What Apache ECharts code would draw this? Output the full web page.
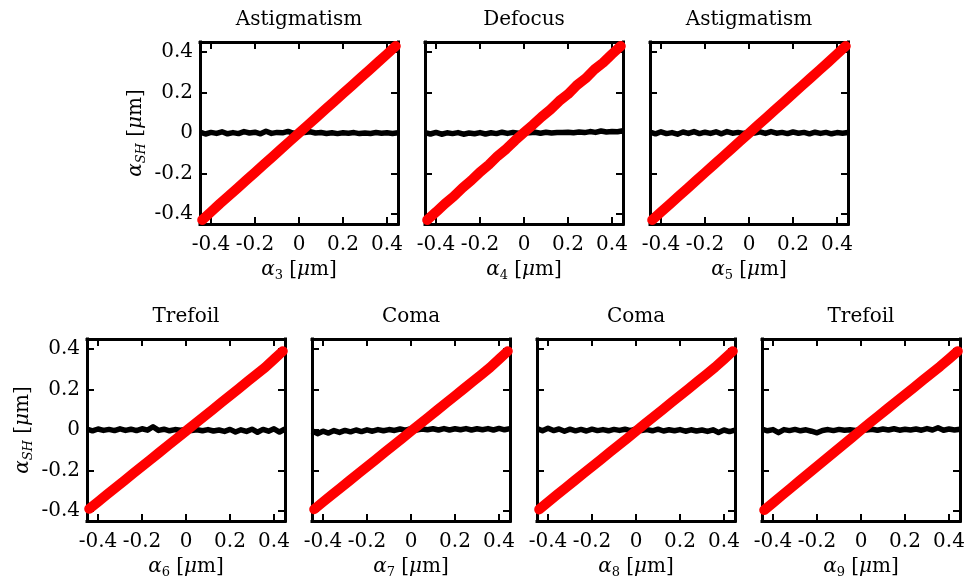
<!DOCTYPE html>
<html>
<head>
<meta charset="utf-8">
<script src="https://cdn.jsdelivr.net/npm/echarts@6/dist/echarts.min.js"></script>
<style>
  html, body { margin: 0; padding: 0; background: #fff; }
  #chart { width: 970px; height: 582px; }
</style>
</head>
<body>
<div id="chart"></div>
<script>
// panel titles and subscripts of the x labels
var titles = ['Astigmatism', 'Defocus', 'Astigmatism', 'Trefoil', 'Coma', 'Coma', 'Trefoil'];
var subs = ['3', '4', '5', '6', '7', '8', '9'];
var ticks = [-0.4, -0.2, 0, 0.2, 0.4];

// x positions of the black (other modes) trace
var xb = [-0.45, -0.425, -0.4, -0.375, -0.35, -0.325, -0.3, -0.275, -0.25, -0.225, -0.2, -0.175, -0.15,
  -0.125, -0.1, -0.075, -0.05, -0.025, 0, 0.025, 0.05, 0.075, 0.1, 0.125, 0.15, 0.175, 0.2, 0.225,
  0.25, 0.275, 0.3, 0.325, 0.35, 0.375, 0.4, 0.425, 0.45];

var black3 = [0.004, -0.005, 0.003, -0.002, 0.006, -0.004, 0.002, -0.003, 0.007, 0.000, 0.004, -0.004, 0.009, -0.002, 0.003, 0.001, 0.008, -0.002, 0.004, 0.002, 0.006, 0.000, 0.002, -0.002, 0.001, -0.003, 0.001, -0.001, 0.002, -0.003, 0.000, -0.002, 0.002, -0.001, 0.001, -0.002, 0.001];
var black4 = [0.002, -0.005, 0.003, -0.006, 0.001, -0.003, 0.002, -0.006, 0.000, -0.004, 0.002, -0.005, 0.001, -0.003, 0.004, -0.002, 0.003, -0.001, 0.002, 0.001, 0.004, -0.001, 0.004, 0.000, 0.003, 0.002, 0.004, 0.001, 0.005, 0.002, 0.007, 0.003, 0.010, 0.005, 0.007, 0.006, 0.011];
var black5 = [0.004, -0.004, 0.006, -0.003, 0.002, -0.006, 0.005, -0.002, 0.007, -0.003, 0.004, -0.002, 0.006, -0.004, 0.007, -0.001, 0.003, -0.002, 0.004, 0.000, 0.006, -0.002, 0.007, -0.001, 0.003, -0.003, 0.005, -0.001, 0.003, -0.004, 0.004, -0.002, 0.003, -0.004, 0.002, -0.001, 0.002];
var black6 = [0.004, -0.004, 0.005, -0.002, 0.003, -0.003, 0.006, -0.002, 0.004, -0.003, 0.006, -0.001, 0.016, -0.002, 0.004, -0.004, 0.002, -0.001, 0.003, -0.003, 0.001, -0.004, 0.002, -0.005, 0.000, -0.007, 0.003, -0.010, 0.001, -0.007, 0.004, -0.011, 0.003, -0.006, 0.006, -0.010, 0.005];
var black7 = [-0.004, -0.018, -0.006, -0.015, -0.003, -0.012, -0.002, -0.009, 0.000, -0.008, 0.001, -0.006, 0.002, -0.004, 0.002, -0.002, 0.005, -0.001, 0.006, 0.000, 0.005, 0.001, 0.006, 0.000, 0.007, 0.000, 0.006, 0.001, 0.007, 0.000, 0.006, 0.001, 0.007, 0.000, 0.008, 0.001, 0.007];
var black8 = [0.007, -0.004, 0.009, -0.003, 0.005, -0.006, 0.004, -0.004, 0.003, -0.005, 0.004, -0.003, 0.002, -0.004, 0.003, -0.002, 0.004, -0.003, 0.005, -0.002, 0.002, -0.004, 0.004, -0.005, 0.001, -0.004, 0.002, -0.006, 0.001, -0.005, 0.000, -0.007, 0.001, -0.012, 0.000, -0.008, -0.001];
var black9 = [0.004, -0.004, 0.002, -0.013, 0.002, -0.003, 0.003, -0.004, 0.001, -0.006, -0.014, -0.002, 0.002, -0.003, 0.003, -0.001, 0.001, -0.002, 0.002, 0.000, 0.004, -0.001, 0.005, 0.000, 0.006, -0.001, 0.004, 0.000, 0.005, -0.001, 0.007, 0.000, 0.011, -0.001, 0.005, 0.000, 0.004];

// x positions of the red (applied mode) trace
var xr = [-0.44, -0.40, -0.36, -0.32, -0.28, -0.24, -0.20, -0.16, -0.12, -0.08, -0.04, 0, 0.04, 0.08,
  0.12, 0.16, 0.20, 0.24, 0.28, 0.32, 0.36, 0.40, 0.44];

var red3 = [-0.43, -0.39, -0.35, -0.312, -0.273, -0.234, -0.195, -0.156, -0.117, -0.078, -0.039, 0.0, 0.039, 0.078, 0.117, 0.156, 0.195, 0.234, 0.273, 0.312, 0.351, 0.39, 0.43];
var red4 = [-0.43, -0.391, -0.350, -0.314, -0.272, -0.235, -0.193, -0.157, -0.114, -0.078, -0.036, 0.002, 0.04, 0.08, 0.116, 0.158, 0.192, 0.236, 0.27, 0.314, 0.348, 0.39, 0.43];
var red5 = [-0.43, -0.391, -0.352, -0.313, -0.274, -0.235, -0.196, -0.157, -0.118, -0.079, -0.04, -0.001, 0.038, 0.077, 0.116, 0.155, 0.194, 0.233, 0.272, 0.311, 0.35, 0.39, 0.43];
var red6 = [-0.39, -0.355, -0.32, -0.285, -0.25, -0.215, -0.18, -0.145, -0.11, -0.075, -0.04, -0.005, 0.03, 0.065, 0.10, 0.135, 0.17, 0.205, 0.24, 0.275, 0.31, 0.35, 0.39];
var red7 = [-0.392, -0.356, -0.321, -0.286, -0.251, -0.216, -0.181, -0.146, -0.111, -0.076, -0.041, -0.006, 0.029, 0.064, 0.099, 0.134, 0.169, 0.204, 0.239, 0.274, 0.31, 0.35, 0.39];
var red8 = [-0.393, -0.357, -0.321, -0.286, -0.251, -0.216, -0.181, -0.146, -0.111, -0.076, -0.041, -0.006, 0.03, 0.065, 0.10, 0.135, 0.17, 0.205, 0.24, 0.275, 0.311, 0.35, 0.39];
var red9 = [-0.396, -0.36, -0.324, -0.288, -0.252, -0.216, -0.18, -0.144, -0.108, -0.072, -0.036, 0.0, 0.035, 0.07, 0.105, 0.14, 0.175, 0.21, 0.245, 0.28, 0.315, 0.352, 0.39];

var blacks = [black3, black4, black5, black6, black7, black8, black9];
var reds = [red3, red4, red5, red6, red7, red8, red9];

var FONT = 'DejaVu Serif';
var lefts = [200, 425, 650, 87, 312, 537, 762];
var tops = [42, 42, 42, 339, 339, 339, 339];

var richStyles = {
    i: { fontStyle: 'italic', fontSize: 20, fontFamily: FONT, color: '#000' },
    t: { fontSize: 20, fontFamily: FONT, color: '#000' },
    s: { fontSize: 13, fontFamily: FONT, color: '#000', padding: [12, 0, 0, 0] },
    si: { fontSize: 13, fontStyle: 'italic', fontFamily: FONT, color: '#000', padding: [12, 0, 0, 0] }
};

function pairs(xs, ys) {
    return xs.map(function (x, k) { return [x, ys[k]]; });
}

var grid = [], xAxis = [], yAxis = [], series = [];
for (var i = 0; i < 7; i++) {
    var first = (i === 0 || i === 3);
    grid.push({ left: lefts[i], top: tops[i], width: 198, height: 182 });

    var base = {
        type: 'value', gridIndex: i, min: -0.45, max: 0.45, splitLine: { show: false },
        axisLine: { show: true, onZero: false, lineStyle: { color: '#000', width: 3, cap: 'square' } },
        axisTick: { show: true, inside: true, length: 7, customValues: ticks,
            lineStyle: { color: '#000', width: 2 } }
    };

    xAxis.push(Object.assign({}, base, {
        position: 'bottom',
        axisLabel: { customValues: ticks, margin: 11, fontSize: 20, fontFamily: FONT, color: '#000',
            formatter: function (v) { return String(v); } },
        name: '{i|α}{s|' + subs[i] + '}{t| [}{i|μ}{t|m]}',
        nameLocation: 'middle', nameGap: 33,
        nameTextStyle: { rich: richStyles }
    }));
    xAxis.push(Object.assign({}, base, {
        position: 'top',
        axisLabel: { show: false },
        name: titles[i], nameLocation: 'middle', nameGap: 12,
        nameTextStyle: { fontSize: 20, fontFamily: FONT, color: '#000' }
    }));
    yAxis.push(Object.assign({}, base, {
        position: 'left',
        axisLabel: { show: first, customValues: ticks, margin: 7, fontSize: 20, fontFamily: FONT, color: '#000',
            formatter: function (v) { return String(v); } },
        name: first ? '{i|α}{si|SH}{t| [}{i|μ}{t|m]}' : '',
        nameLocation: 'middle', nameGap: 52, nameRotate: 90,
        nameTextStyle: { rich: richStyles }
    }));
    yAxis.push(Object.assign({}, base, {
        position: 'right',
        axisLabel: { show: false }
    }));

    series.push({
        type: 'line', xAxisIndex: 2 * i, yAxisIndex: 2 * i, data: pairs(xb, blacks[i]),
        showSymbol: false, silent: true, animation: false,
        lineStyle: { color: '#000', width: 5.5, join: 'round' }, z: 2
    });
    series.push({
        type: 'line', xAxisIndex: 2 * i, yAxisIndex: 2 * i, data: pairs(xr, reds[i]),
        showSymbol: false, silent: true, animation: false,
        lineStyle: { color: '#ff0000', width: 10, cap: 'round', join: 'round' }, z: 3
    });
}

var chart = echarts.init(document.getElementById('chart'), null, { renderer: 'canvas' });
chart.setOption({
    backgroundColor: '#fff',
    animation: false,
    grid: grid,
    xAxis: xAxis,
    yAxis: yAxis,
    series: series
});
</script>
</body>
</html>
